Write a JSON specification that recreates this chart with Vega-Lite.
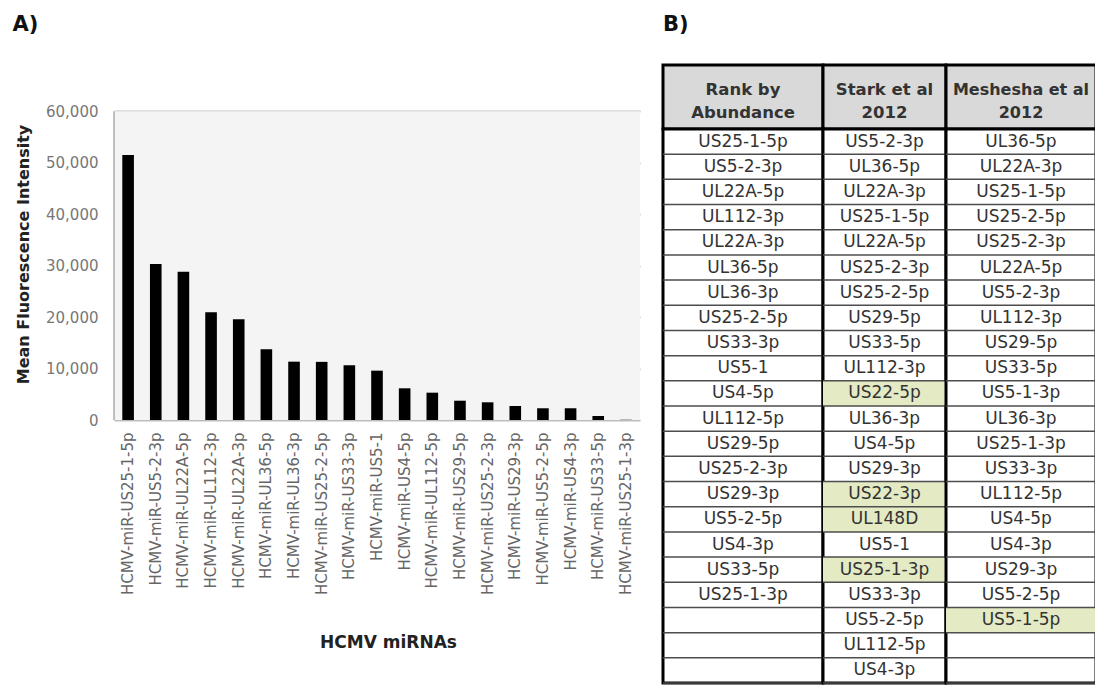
{
  "$schema": "https://vega.github.io/schema/vega-lite/v6.json",
  "background": "white",
  "padding": {"left": 12, "top": 12, "right": 0, "bottom": 0},
  "config": {
    "font": "DejaVu Sans",
    "view": {"stroke": null},
    "title": {"fontSize": 21, "fontWeight": "bold", "color": "#111", "anchor": "start", "font": "DejaVu Sans"}
  },
  "datasets": {
    "bars": [
      {"mirna": "HCMV-miR-US25-1-5p", "mfi": 51500},
      {"mirna": "HCMV-miR-US5-2-3p", "mfi": 30300},
      {"mirna": "HCMV-miR-UL22A-5p", "mfi": 28800},
      {"mirna": "HCMV-miR-UL112-3p", "mfi": 20950},
      {"mirna": "HCMV-miR-UL22A-3p", "mfi": 19580},
      {"mirna": "HCMV-miR-UL36-5p", "mfi": 13750},
      {"mirna": "HCMV-miR-UL36-3p", "mfi": 11340},
      {"mirna": "HCMV-miR-US25-2-5p", "mfi": 11300},
      {"mirna": "HCMV-miR-US33-3p", "mfi": 10640},
      {"mirna": "HCMV-miR-US5-1", "mfi": 9590},
      {"mirna": "HCMV-miR-US4-5p", "mfi": 6160},
      {"mirna": "HCMV-miR-UL112-5p", "mfi": 5310},
      {"mirna": "HCMV-miR-US29-5p", "mfi": 3750},
      {"mirna": "HCMV-miR-US25-2-3p", "mfi": 3440},
      {"mirna": "HCMV-miR-US29-3p", "mfi": 2720},
      {"mirna": "HCMV-miR-US5-2-5p", "mfi": 2280},
      {"mirna": "HCMV-miR-US4-3p", "mfi": 2280},
      {"mirna": "HCMV-miR-US33-5p", "mfi": 780},
      {"mirna": "HCMV-miR-US25-1-3p", "mfi": 50}
    ],
    "table": [
      {"row": 1, "rank": "US25-1-5p", "stark": "US5-2-3p", "starkHL": false, "meshesha": "UL36-5p", "mesheshaHL": false},
      {"row": 2, "rank": "US5-2-3p", "stark": "UL36-5p", "starkHL": false, "meshesha": "UL22A-3p", "mesheshaHL": false},
      {"row": 3, "rank": "UL22A-5p", "stark": "UL22A-3p", "starkHL": false, "meshesha": "US25-1-5p", "mesheshaHL": false},
      {"row": 4, "rank": "UL112-3p", "stark": "US25-1-5p", "starkHL": false, "meshesha": "US25-2-5p", "mesheshaHL": false},
      {"row": 5, "rank": "UL22A-3p", "stark": "UL22A-5p", "starkHL": false, "meshesha": "US25-2-3p", "mesheshaHL": false},
      {"row": 6, "rank": "UL36-5p", "stark": "US25-2-3p", "starkHL": false, "meshesha": "UL22A-5p", "mesheshaHL": false},
      {"row": 7, "rank": "UL36-3p", "stark": "US25-2-5p", "starkHL": false, "meshesha": "US5-2-3p", "mesheshaHL": false},
      {"row": 8, "rank": "US25-2-5p", "stark": "US29-5p", "starkHL": false, "meshesha": "UL112-3p", "mesheshaHL": false},
      {"row": 9, "rank": "US33-3p", "stark": "US33-5p", "starkHL": false, "meshesha": "US29-5p", "mesheshaHL": false},
      {"row": 10, "rank": "US5-1", "stark": "UL112-3p", "starkHL": false, "meshesha": "US33-5p", "mesheshaHL": false},
      {"row": 11, "rank": "US4-5p", "stark": "US22-5p", "starkHL": true, "meshesha": "US5-1-3p", "mesheshaHL": false},
      {"row": 12, "rank": "UL112-5p", "stark": "UL36-3p", "starkHL": false, "meshesha": "UL36-3p", "mesheshaHL": false},
      {"row": 13, "rank": "US29-5p", "stark": "US4-5p", "starkHL": false, "meshesha": "US25-1-3p", "mesheshaHL": false},
      {"row": 14, "rank": "US25-2-3p", "stark": "US29-3p", "starkHL": false, "meshesha": "US33-3p", "mesheshaHL": false},
      {"row": 15, "rank": "US29-3p", "stark": "US22-3p", "starkHL": true, "meshesha": "UL112-5p", "mesheshaHL": false},
      {"row": 16, "rank": "US5-2-5p", "stark": "UL148D", "starkHL": true, "meshesha": "US4-5p", "mesheshaHL": false},
      {"row": 17, "rank": "US4-3p", "stark": "US5-1", "starkHL": false, "meshesha": "US4-3p", "mesheshaHL": false},
      {"row": 18, "rank": "US33-5p", "stark": "US25-1-3p", "starkHL": true, "meshesha": "US29-3p", "mesheshaHL": false},
      {"row": 19, "rank": "US25-1-3p", "stark": "US33-3p", "starkHL": false, "meshesha": "US5-2-5p", "mesheshaHL": false},
      {"row": 20, "rank": "", "stark": "US5-2-5p", "starkHL": false, "meshesha": "US5-1-5p", "mesheshaHL": true},
      {"row": 21, "rank": "", "stark": "UL112-5p", "starkHL": false, "meshesha": "", "mesheshaHL": false},
      {"row": 22, "rank": "", "stark": "US4-3p", "starkHL": false, "meshesha": "", "mesheshaHL": false}
    ]
  },
  "spacing": 20,
  "hconcat": [
    {
      "title": {"text": "A)", "frame": "bounds", "offset": 30, "dx": -3},
      "width": 526,
      "height": 355,
      "view": {"stroke": null},
      "layer": [
        {
          "data": {"values": [{}]},
          "mark": {"type": "rect", "color": "#f4f4f4"},
          "encoding": {"y": {"datum": 0, "type": "quantitative"}, "y2": {"datum": 60000}}
        },
        {
          "data": {"name": "bars"},
          "mark": {"type": "bar", "color": "black"},
          "encoding": {
            "x": {
              "field": "mirna", "type": "nominal", "sort": null,
              "scale": {"paddingInner": 0.58, "paddingOuter": 0.3},
              "axis": {
                "title": "HCMV miRNAs", "labelAngle": -90, "labelFontSize": 15, "labelColor": "#666",
                "labelPadding": 12, "ticks": false, "domain": false, "labelLimit": 200,
                "titleFontSize": 17, "titleFontWeight": "bold", "titleColor": "#222",
                "titlePadding": 40, "titleX": 274
              }
            },
            "y": {
              "field": "mfi", "type": "quantitative",
              "scale": {"domain": [0, 69000], "nice": false},
              "axis": {
                "title": "Mean Fluorescence Intensity",
                "values": [0, 10000, 20000, 30000, 40000, 50000, 60000],
                "format": ",d", "grid": true, "gridColor": "#bdbdbd", "gridWidth": 2,
                "ticks": false, "domain": false, "labelPadding": 16, "labelFontSize": 15, "labelColor": "#777",
                "titleFontSize": 16, "titleFontWeight": "bold", "titleColor": "#222",
                "titlePadding": 14, "titleY": 189
              }
            }
          }
        },
        {
          "data": {"values": [{}]},
          "mark": {"type": "rule", "color": "#aaa", "strokeWidth": 1.5},
          "encoding": {
            "x": {"datum": "HCMV-miR-US25-1-5p", "type": "nominal", "bandPosition": -0.714},
            "y": {"datum": 0, "type": "quantitative"},
            "y2": {"datum": 60000}
          }
        }
      ]
    },
    {
      "columns": 3,
      "spacing": 0,
      "bounds": "flush",
      "align": "each",
      "concat": [
        {
          "title": {"text": "B)", "frame": "group", "offset": 30},
          "width": 160, "height": 64,
          "data": {"values": [{"h": "Rank by\nAbundance"}]},
          "view": {"fill": "#d9d9d9", "stroke": "black", "strokeWidth": 3},
          "mark": {"type": "text", "fontWeight": "bold", "fontSize": 16.5, "lineBreak": "\n", "lineHeight": 23, "color": "#333", "dy": -7},
          "encoding": {"text": {"field": "h"}}
        },
        {
          "width": 123, "height": 64,
          "data": {"values": [{"h": "Stark et al\n2012"}]},
          "view": {"fill": "#d9d9d9", "stroke": "black", "strokeWidth": 3},
          "mark": {"type": "text", "fontWeight": "bold", "fontSize": 16.5, "lineBreak": "\n", "lineHeight": 23, "color": "#333", "dy": -7},
          "encoding": {"text": {"field": "h"}}
        },
        {
          "width": 150, "height": 64,
          "data": {"values": [{"h": "Meshesha et al\n2012"}]},
          "view": {"fill": "#d9d9d9", "stroke": "black", "strokeWidth": 3},
          "mark": {"type": "text", "fontWeight": "bold", "fontSize": 16, "lineBreak": "\n", "lineHeight": 23, "color": "#333", "dy": -7},
          "encoding": {"text": {"field": "h"}}
        },
        {
          "width": 160, "height": 554,
          "data": {"name": "table"},
          "view": {"fill": "white", "stroke": "black", "strokeWidth": 3},
          "encoding": {"y": {"field": "row", "type": "ordinal", "axis": null, "scale": {"type": "band", "paddingInner": 0, "paddingOuter": 0}}},
          "layer": [
            {"mark": {"type": "rule", "color": "#4d4d4d", "strokeWidth": 1.5}, "encoding": {"y": {"field": "row", "type": "ordinal", "bandPosition": 1}}},
            {"mark": {"type": "text", "fontSize": 17, "color": "#333"}, "encoding": {"text": {"field": "rank"}}}
          ]
        },
        {
          "width": 123, "height": 554,
          "data": {"name": "table"},
          "view": {"fill": "white", "stroke": "black", "strokeWidth": 3},
          "encoding": {"y": {"field": "row", "type": "ordinal", "axis": null, "scale": {"type": "band", "paddingInner": 0, "paddingOuter": 0}}},
          "layer": [
            {"transform": [{"filter": "datum.starkHL"}], "mark": {"type": "rect", "color": "#e3eac4"}, "encoding": {}},
            {"mark": {"type": "rule", "color": "#4d4d4d", "strokeWidth": 1.5}, "encoding": {"y": {"field": "row", "type": "ordinal", "bandPosition": 1}}},
            {"mark": {"type": "text", "fontSize": 17, "color": "#333"}, "encoding": {"text": {"field": "stark"}, "fontStyle": {"condition": {"test": "datum.starkHL", "value": "italic"}, "value": "normal"}}}
          ]
        },
        {
          "width": 150, "height": 554,
          "data": {"name": "table"},
          "view": {"fill": "white", "stroke": "black", "strokeWidth": 3},
          "encoding": {"y": {"field": "row", "type": "ordinal", "axis": null, "scale": {"type": "band", "paddingInner": 0, "paddingOuter": 0}}},
          "layer": [
            {"transform": [{"filter": "datum.mesheshaHL"}], "mark": {"type": "rect", "color": "#e3eac4"}, "encoding": {}},
            {"mark": {"type": "rule", "color": "#4d4d4d", "strokeWidth": 1.5}, "encoding": {"y": {"field": "row", "type": "ordinal", "bandPosition": 1}}},
            {"mark": {"type": "text", "fontSize": 17, "color": "#333"}, "encoding": {"text": {"field": "meshesha"}, "fontStyle": {"condition": {"test": "datum.mesheshaHL", "value": "italic"}, "value": "normal"}}}
          ]
        }
      ]
    }
  ]
}
